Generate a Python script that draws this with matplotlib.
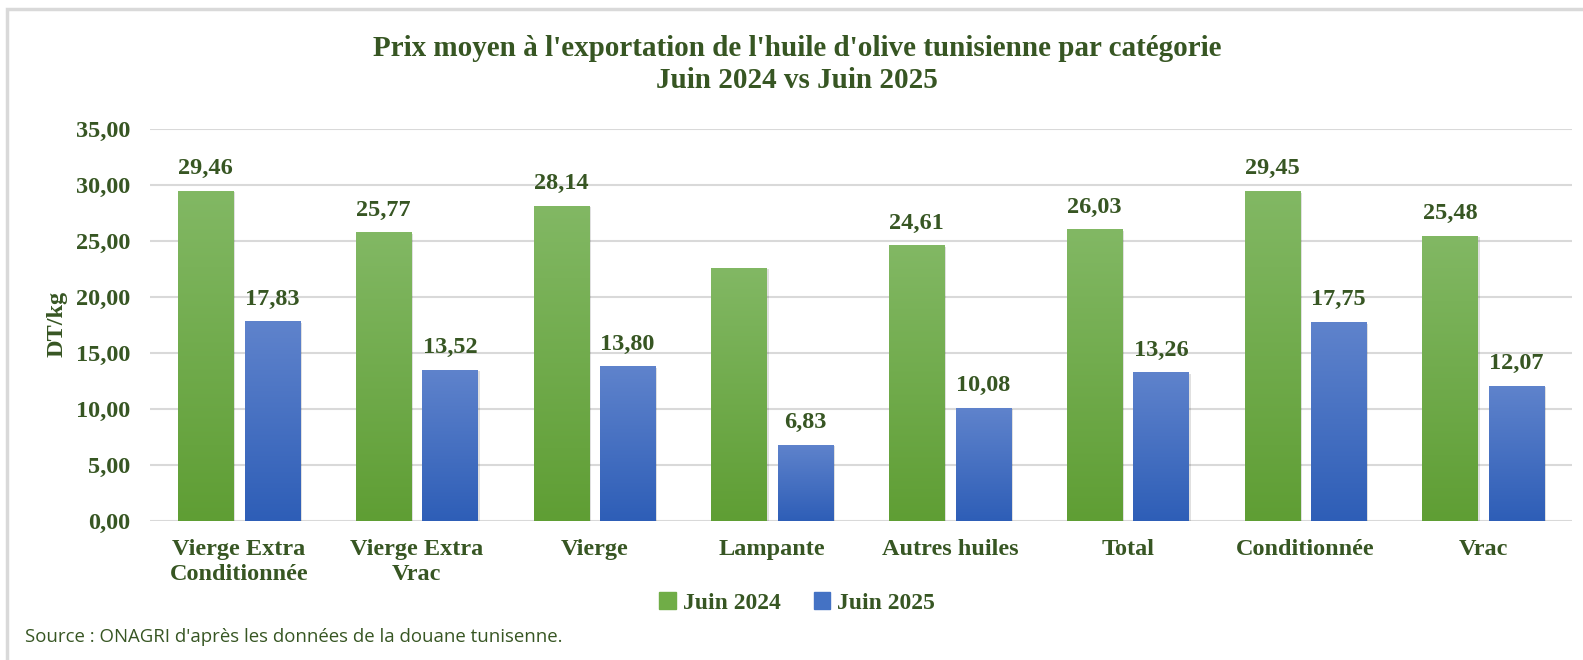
import numpy as np
import matplotlib.pyplot as plt
from matplotlib.colors import LinearSegmentedColormap
from matplotlib.patches import Rectangle

categories = ["Vierge Extra\nConditionnée", "Vierge Extra\nVrac", "Vierge", "Lampante",
              "Autres huiles", "Total", "Conditionnée", "Vrac"]
juin_2024 = [29.46, 25.77, 28.14, 22.60, 24.61, 26.03, 29.45, 25.48]
juin_2025 = [17.83, 13.52, 13.80, 6.83, 10.08, 13.26, 17.75, 12.07]
# la barre Lampante 2024 n'a pas d'étiquette dans l'original
labels_2024 = ["29,46", "25,77", "28,14", "", "24,61", "26,03", "29,45", "25,48"]
labels_2025 = ["17,83", "13,52", "13,80", "6,83", "10,08", "13,26", "17,75", "12,07"]

vert_texte = "#375623"
serif = ["Liberation Serif", "DejaVu Serif"]
taille = 17.5

fig = plt.figure(figsize=(15.83, 6.60), dpi=100)
ax = fig.add_axes([150 / 1583, 1 - 521 / 660, (1572 - 150) / 1583, 392 / 660])

# cadre du graphique (gris clair)
fig.patches.append(Rectangle((7 / 1583, -0.1), 1.2, 1 - 9 / 660 + 0.1, transform=fig.transFigure,
                             fill=False, edgecolor="#d9d9d9", linewidth=2.5, zorder=0))

x = np.arange(len(categories))
w = 0.31
off = 0.187

cmap_vert = LinearSegmentedColormap.from_list("v", ["#5f9e34", "#82b864"])
cmap_bleu = LinearSegmentedColormap.from_list("b", ["#2e5eb7", "#5f83cc"])
grad = np.linspace(0, 1, 256).reshape(-1, 1)


def barres(pos, vals, cmap):
    # ombre
    ax.bar(pos + 0.012, vals, w, bottom=-0.12, color="#000000", alpha=0.12, zorder=2, linewidth=0)
    bars = ax.bar(pos, vals, w, color="none", zorder=3, linewidth=0)
    for b in bars:
        x0, y0 = b.get_x(), b.get_y()
        im = ax.imshow(grad, cmap=cmap, aspect="auto", origin="lower",
                       extent=[x0, x0 + b.get_width(), y0, y0 + b.get_height()], zorder=3)
        im.set_clip_path(b)
    return bars


b1 = barres(x - off, juin_2024, cmap_vert)
b2 = barres(x + off, juin_2025, cmap_bleu)

for bars, labs in ((b1, labels_2024), (b2, labels_2025)):
    for b, lab in zip(bars, labs):
        ax.text(b.get_x() + b.get_width() / 2, b.get_height() + 1.05, lab, ha="center", va="bottom",
                fontsize=taille, fontweight="bold", color=vert_texte, family=serif)

ax.set_xlim(-0.5, len(categories) - 0.5)
ax.set_ylim(0, 35)
ax.set_yticks(np.arange(0, 36, 5))
ax.set_yticklabels([f"{v:.2f}".replace(".", ",") for v in np.arange(0, 36, 5)])
ax.set_xticks(x)
ax.set_xticklabels(categories, linespacing=1.25)
for t in ax.get_xticklabels() + ax.get_yticklabels():
    t.set_fontsize(taille)
    t.set_fontweight("bold")
    t.set_color(vert_texte)
    t.set_family(serif)
ax.tick_params(axis="y", length=0, pad=14)
ax.tick_params(axis="x", length=0, pad=13)
ax.yaxis.grid(True, color="#d9d9d9", linewidth=1.5)
ax.set_axisbelow(True)
for s in ax.spines.values():
    s.set_visible(False)

ax.set_ylabel("DT/kg", fontsize=taille, fontweight="bold", color=vert_texte, family=serif)
ax.yaxis.set_label_coords(-0.058, 0.503)

fig.text(797 / 1583, 1 - 48 / 660, "Prix moyen à l'exportation de l'huile d'olive tunisienne par catégorie",
         ha="center", va="center", fontsize=21, fontweight="bold", color=vert_texte, family=serif)
fig.text(797 / 1583, 1 - 81 / 660, "Juin 2024 vs Juin 2025",
         ha="center", va="center", fontsize=21, fontweight="bold", color=vert_texte, family=serif)

h1 = Rectangle((0, 0), 1, 1, color="#70ad47")
h2 = Rectangle((0, 0), 1, 1, color="#4472c4")
fig.legend([h1, h2], ["Juin 2024", "Juin 2025"], loc="center", bbox_to_anchor=(797 / 1583, 1 - 603 / 660),
           ncol=2, frameon=False, handlelength=0.7, handleheight=0.7, handletextpad=0.3, columnspacing=1.4,
           prop={"family": serif, "weight": "bold", "size": 17}, labelcolor=vert_texte)

fig.text(25 / 1583, 1 - 637 / 660, "Source : ONAGRI d'après les données de la douane tunisenne.",
         ha="left", va="center", fontsize=13.4, color=vert_texte, family=["Open Sans", "DejaVu Sans"])

fig.savefig("out.png", dpi=100)
